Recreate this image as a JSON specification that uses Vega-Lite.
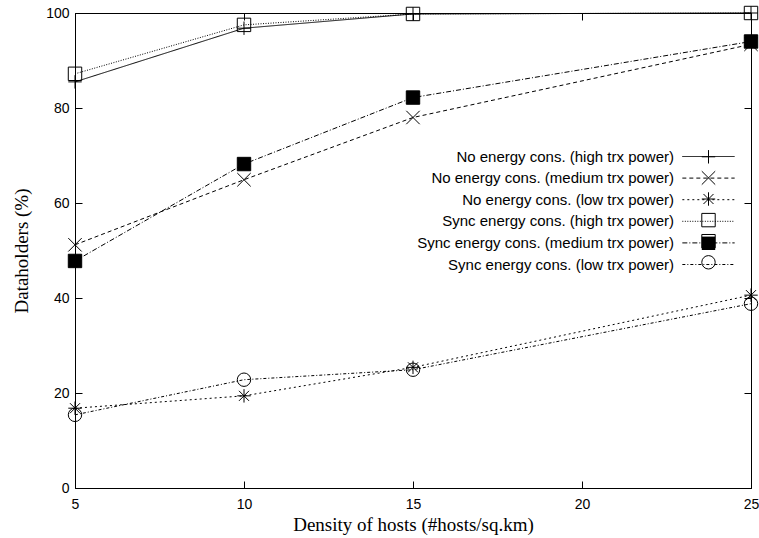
{
  "$schema": "https://vega.github.io/schema/vega-lite/v6.json",
  "width": 676,
  "height": 475,
  "autosize": {"type": "none"},
  "padding": {"left": 75, "top": 13, "right": 8, "bottom": 50},
  "background": "white",
  "config": {
    "view": {"stroke": "black", "strokeWidth": 1},
    "axis": {
      "grid": false,
      "labelFont": "Liberation Sans",
      "labelFontSize": 14,
      "labelColor": "black",
      "labelFlush": false,
      "labelOverlap": false,
      "labelBound": false,
      "titleFont": "Liberation Serif",
      "titleFontSize": 19,
      "titleFontWeight": "normal",
      "titleColor": "black",
      "domainColor": "black",
      "domainWidth": 1,
      "tickColor": "black",
      "tickWidth": 1
    }
  },
  "data": {
    "values": [
      {"density": 5, "series": "No energy cons. (high trx power)", "value": 85.5},
      {"density": 10, "series": "No energy cons. (high trx power)", "value": 96.8},
      {"density": 15, "series": "No energy cons. (high trx power)", "value": 99.8},
      {"density": 25, "series": "No energy cons. (high trx power)", "value": 100},
      {"density": 5, "series": "No energy cons. (medium trx power)", "value": 51.2},
      {"density": 10, "series": "No energy cons. (medium trx power)", "value": 64.9},
      {"density": 15, "series": "No energy cons. (medium trx power)", "value": 78.0},
      {"density": 25, "series": "No energy cons. (medium trx power)", "value": 93.4},
      {"density": 5, "series": "No energy cons. (low trx power)", "value": 16.8},
      {"density": 10, "series": "No energy cons. (low trx power)", "value": 19.4},
      {"density": 15, "series": "No energy cons. (low trx power)", "value": 25.4},
      {"density": 25, "series": "No energy cons. (low trx power)", "value": 40.6},
      {"density": 5, "series": "Sync energy cons. (high trx power)", "value": 87.2},
      {"density": 10, "series": "Sync energy cons. (high trx power)", "value": 97.5},
      {"density": 15, "series": "Sync energy cons. (high trx power)", "value": 99.8},
      {"density": 25, "series": "Sync energy cons. (high trx power)", "value": 100},
      {"density": 5, "series": "Sync energy cons. (medium trx power)", "value": 47.8},
      {"density": 10, "series": "Sync energy cons. (medium trx power)", "value": 68.2},
      {"density": 15, "series": "Sync energy cons. (medium trx power)", "value": 82.2},
      {"density": 25, "series": "Sync energy cons. (medium trx power)", "value": 94.0},
      {"density": 5, "series": "Sync energy cons. (low trx power)", "value": 15.4},
      {"density": 10, "series": "Sync energy cons. (low trx power)", "value": 22.8},
      {"density": 15, "series": "Sync energy cons. (low trx power)", "value": 24.9},
      {"density": 25, "series": "Sync energy cons. (low trx power)", "value": 38.8}
    ]
  },
  "layer": [
    {
      "mark": {"type": "line", "color": "black", "strokeWidth": 1},
      "encoding": {
        "x": {
          "field": "density", "type": "quantitative",
          "scale": {"domain": [5, 25], "nice": false, "zero": false},
          "axis": {"orient": "bottom", "values": [5, 10, 15, 20, 25], "tickSize": -7, "labelPadding": 16, "title": "Density of hosts (#hosts/sq.km)", "titlePadding": 4}
        },
        "y": {
          "field": "value", "type": "quantitative",
          "scale": {"domain": [0, 100], "nice": false},
          "axis": {"orient": "left", "values": [0, 20, 40, 60, 80, 100], "tickSize": -7, "labelPadding": 13, "title": "Dataholders (%)", "titlePadding": 14}
        },
        "strokeDash": {
          "field": "series", "type": "nominal",
          "scale": {
            "domain": [
              "No energy cons. (high trx power)",
              "No energy cons. (medium trx power)",
              "No energy cons. (low trx power)",
              "Sync energy cons. (high trx power)",
              "Sync energy cons. (medium trx power)",
              "Sync energy cons. (low trx power)"
            ],
            "range": [[1, 0], [4, 3], [2, 3], [1, 1.5], [5, 2, 1, 2], [3, 2, 1, 2]]
          },
          "legend": {
            "orient": "none", "legendX": 626, "legendY": 136, "title": null,
            "symbolType": "M-3.9,0L3.9,0", "symbolSize": 180, "symbolStrokeWidth": 1,
            "symbolStrokeColor": "black", "symbolFillColor": "transparent",
            "labelFont": "Liberation Sans", "labelFontSize": 15, "labelColor": "black", "labelLimit": 400,
            "labelAlign": "right", "labelOffset": -42, "rowPadding": 5.6, "padding": 0
          }
        }
      }
    },
    {
      "mark": {"type": "point", "filled": false, "color": "black", "strokeWidth": 1, "opacity": 1, "size": 180},
      "encoding": {
        "x": {
          "field": "density", "type": "quantitative",
          "axis": {"orient": "top", "values": [5, 10, 15, 20, 25], "tickSize": -7, "labels": false, "title": null}
        },
        "y": {
          "field": "value", "type": "quantitative",
          "axis": {"orient": "right", "values": [0, 20, 40, 60, 80, 100], "tickSize": -7, "labels": false, "title": null}
        },
        "shape": {
          "field": "series", "type": "nominal",
          "sort": [
            "No energy cons. (high trx power)",
            "No energy cons. (medium trx power)",
            "No energy cons. (low trx power)",
            "Sync energy cons. (high trx power)",
            "Sync energy cons. (medium trx power)",
            "Sync energy cons. (low trx power)"
          ],
          "scale": {
            "range": [
              "M-1,0L1,0M0,-1L0,1",
              "M-1,-1L1,1M-1,1L1,-1",
              "M-1,0L1,0M0,-1L0,1M-0.75,-0.75L0.75,0.75M-0.75,0.75L0.75,-0.75",
              "square",
              "square",
              "circle"
            ]
          },
          "legend": {
            "orient": "none", "legendX": 626, "legendY": 136.3, "title": null,
            "symbolSize": 180, "symbolStrokeWidth": 1, "symbolStrokeColor": "black", "symbolFillColor": "transparent",
            "labelExpr": "''", "labelFontSize": 15, "rowPadding": 2.1, "padding": 0
          }
        }
      }
    },
    {
      "transform": [{"filter": "datum.series === 'Sync energy cons. (medium trx power)'"}],
      "mark": {"type": "point", "filled": true, "shape": "square", "opacity": 1, "size": 180},
      "encoding": {
        "x": {"field": "density", "type": "quantitative", "axis": null},
        "y": {"field": "value", "type": "quantitative", "axis": null},
        "fill": {
          "field": "series", "type": "nominal",
          "scale": {"range": ["black"]},
          "legend": {
            "orient": "none", "legendX": 626, "legendY": 222.8, "title": null,
            "symbolType": "square", "symbolSize": 180, "symbolStrokeWidth": 0,
            "labelExpr": "''", "labelFontSize": 15, "padding": 0
          }
        }
      }
    }
  ],
  "resolve": {"axis": {"x": "independent", "y": "independent"}}
}
